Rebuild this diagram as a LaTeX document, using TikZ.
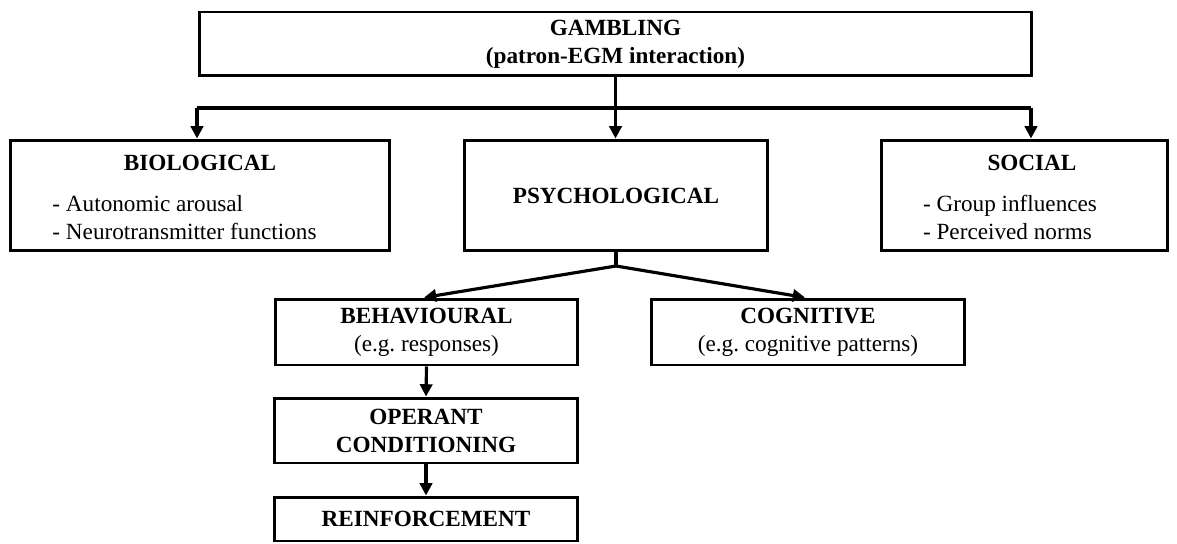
\documentclass[tikz,border=0pt]{standalone}
\usepackage{fontspec}
\setmainfont{Liberation Serif}
\usetikzlibrary{arrows.meta}
\frenchspacing

\tikzset{
  box/.style={draw, line width=1.7pt, rectangle, align=center, inner sep=0pt},
  link/.style={line width=1.8pt},
  arr/.style={link, -{Triangle[length=7pt,width=7pt]}},
}

\begin{document}
\begin{tikzpicture}[x=0.02cm, y=-0.02cm, font=\fontsize{13.2}{15.9}\selectfont]
\useasboundingbox (0,0) rectangle (1177,544);

\node (gambling) [box, minimum width=16.66cm, minimum height=1.28cm] at (615.5,44) {
\textbf{GAMBLING}\\
\textbf{(patron-EGM interaction)}
};

\node (bio) [box, minimum width=7.6cm, minimum height=2.22cm] at (200,195.5) {
\rule{0pt}{15.5pt}\textbf{BIOLOGICAL}\\[7pt]
\hspace*{-0.62cm}\begin{tabular}[t]{@{}l@{}}- Autonomic arousal\\- Neurotransmitter functions\end{tabular}
};
\node (psych) [box, minimum width=6.08cm, minimum height=2.22cm] at (616,195.5) {\textbf{PSYCHOLOGICAL}};
\node (social) [box, minimum width=5.74cm, minimum height=2.22cm] at (1024.5,195.5) {
\rule{0pt}{15.5pt}\hspace*{0.3cm}\textbf{SOCIAL}\\[7pt]
\hspace*{-0.58cm}\begin{tabular}[t]{@{}l@{}}- Group influences\\- Perceived norms\end{tabular}
};

\node (behav) [box, minimum width=6.06cm, minimum height=1.32cm] at (426.5,332) {
\textbf{BEHAVIOURAL}\\
(e.g. responses)
};
\node (cog) [box, minimum width=6.28cm, minimum height=1.32cm] at (808,332) {
\textbf{COGNITIVE}\\
(e.g. cognitive patterns)
};
\node (operant) [box, minimum width=6.08cm, minimum height=1.3cm] at (426,430.5) {
\textbf{OPERANT}\\
\textbf{CONDITIONING}
};
\node (reinf) [box, minimum width=6.08cm, minimum height=0.88cm] at (426,519) {\textbf{REINFORCEMENT}};

% gambling splits three ways
\coordinate (split) at (615.5,108);
\coordinate (bioturn) at (197,108);
\coordinate (socturn) at (1031,108);
\draw[link] (gambling.south) -- (split);
\draw[link] (bioturn) -- (socturn);
\draw[arr] (split) -- (split |- psych.north);
\draw[arr] (bioturn) -- (bioturn |- bio.north);
\draw[arr] (socturn) -- (socturn |- social.north);

% psychological splits two ways
\coordinate (fork) at (616,266);
\draw[link] (psych.south) -- (fork);
\draw[arr] (fork) -- ([xshift=-0.05cm]behav.north);
\draw[arr] (fork) -- ([xshift=-0.06cm]cog.north);

\draw[arr] (behav.south) -- (operant.north);
\draw[arr] (operant.south) -- (reinf.north);
\end{tikzpicture}
\end{document}
